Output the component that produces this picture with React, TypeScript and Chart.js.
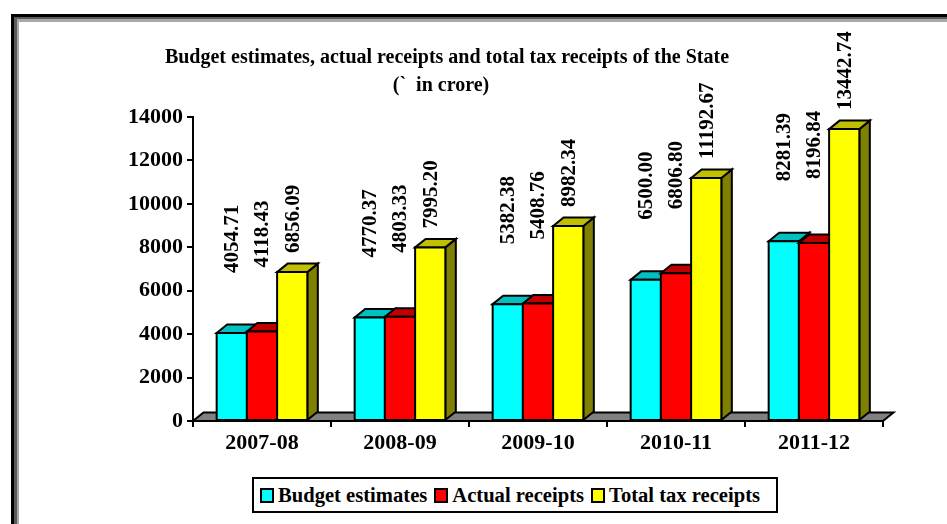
import React, { useEffect, useRef } from "react";
import { Chart, registerables } from "chart.js";

Chart.register(...registerables);

const categories = ["2007-08", "2008-09", "2009-10", "2010-11", "2011-12"];
const budgetEstimates = [4054.71, 4770.37, 5382.38, 6500.0, 8281.39];
const actualReceipts = [4118.43, 4803.33, 5408.76, 6806.8, 8196.84];
const totalTaxReceipts = [6856.09, 7995.2, 8982.34, 11192.67, 13442.74];
const seriesNames = ["Budget estimates", "Actual receipts", "Total tax receipts"];
const yMin = 0;
const yMax = 14000;
const yStep = 2000;

const FONT = '"Liberation Serif", "Times New Roman", serif';

const frontColors = ["#00FFFF", "#FF0000", "#FFFF00"];
const topColors = ["#00C0C0", "#C00000", "#C0C000"];
const sideColors = ["#008080", "#800000", "#808000"];
const labelOffsets = [60, 64, 19];

const bars3d = {
  id: "bars3d",
  beforeDatasetsDraw(chart: any) {
    const ctx = chart.ctx;
    const { left, right, bottom } = chart.chartArea;
    const dx = 10.5;
    const dy = 8.5;
    ctx.save();
    ctx.lineJoin = "miter";
    ctx.lineWidth = 2;
    ctx.strokeStyle = "#000";
    // floor
    ctx.beginPath();
    ctx.moveTo(left, bottom);
    ctx.lineTo(left + dx, bottom - dy);
    ctx.lineTo(right + dx, bottom - dy);
    ctx.lineTo(right, bottom);
    ctx.closePath();
    ctx.fillStyle = "#808080";
    ctx.fill();
    ctx.stroke();

    const n = chart.data.labels.length;
    const nd = chart.data.datasets.length;
    for (let i = 0; i < n; i++) {
      for (let d = 0; d < nd; d++) {
        const el: any = chart.getDatasetMeta(d).data[i];
        const x0 = el.x - el.width / 2;
        const x1 = el.x + el.width / 2;
        const yT = el.y;
        const yB = el.base;
        // side
        ctx.beginPath();
        ctx.moveTo(x1, yB);
        ctx.lineTo(x1 + dx, yB - dy);
        ctx.lineTo(x1 + dx, yT - dy);
        ctx.lineTo(x1, yT);
        ctx.closePath();
        ctx.fillStyle = sideColors[d];
        ctx.fill();
        ctx.stroke();
        // top
        ctx.beginPath();
        ctx.moveTo(x0, yT);
        ctx.lineTo(x0 + dx, yT - dy);
        ctx.lineTo(x1 + dx, yT - dy);
        ctx.lineTo(x1, yT);
        ctx.closePath();
        ctx.fillStyle = topColors[d];
        ctx.fill();
        ctx.stroke();
        // front
        ctx.beginPath();
        ctx.rect(x0, yT, x1 - x0, yB - yT);
        ctx.fillStyle = frontColors[d];
        ctx.fill();
        ctx.stroke();
      }
    }
    // data labels
    ctx.fillStyle = "#000";
    ctx.font = `bold 21px ${FONT}`;
    ctx.textAlign = "left";
    ctx.textBaseline = "middle";
    for (let d = 0; d < nd; d++) {
      const ds = chart.data.datasets[d];
      chart.getDatasetMeta(d).data.forEach((el: any, i: number) => {
        const v = ds.data[i] as number;
        ctx.save();
        ctx.translate(el.x + 1, el.y - labelOffsets[d]);
        ctx.rotate(-Math.PI / 2);
        ctx.fillText(v.toFixed(2), 0, 0);
        ctx.restore();
      });
    }
    ctx.restore();
    return false;
  },
};

export default function App() {
  const ref = useRef<HTMLCanvasElement>(null);
  useEffect(() => {
    if (!ref.current) return;
    const chart = new Chart(ref.current, {
      type: "bar",
      data: {
        labels: categories,
        datasets: [budgetEstimates, actualReceipts, totalTaxReceipts].map((data, d) => ({
          label: seriesNames[d],
          data,
          backgroundColor: frontColors[d],
          borderColor: "#000",
          borderWidth: 2,
          categoryPercentage: 0.657,
          barPercentage: 1,
        })),
      },
      options: {
        responsive: false,
        animation: false,
        layout: { padding: { left: 0, right: 64, top: 117, bottom: 0 } },
        plugins: {
          legend: { display: false },
          title: { display: false },
          tooltip: { enabled: false },
        },
        scales: {
          x: {
            afterFit: (s: any) => {
              s.height = 103;
            },
            grid: {
              display: true,
              drawOnChartArea: false,
              drawTicks: true,
              tickLength: 6,
              color: "#000",
              lineWidth: 2,
              offset: true,
            },
            border: { display: true, color: "#000", width: 2 },
            ticks: {
              color: "#000",
              font: { family: FONT, size: 22, weight: "bold" },
              padding: 3,
              maxRotation: 0,
            },
          },
          y: {
            min: yMin,
            max: yMax,
            afterFit: (s: any) => {
              s.width = 193;
            },
            grid: {
              display: true,
              drawOnChartArea: false,
              drawTicks: true,
              tickLength: 6,
              color: "#000",
              lineWidth: 2,
            },
            border: { display: true, color: "#000", width: 2 },
            ticks: {
              stepSize: yStep,
              color: "#000",
              font: { family: FONT, size: 22, weight: "bold" },
              padding: 4,
              callback: (v: any) => String(v),
            },
          },
        },
      },
      plugins: [bars3d],
    } as any);
    return () => chart.destroy();
  }, []);

  const swatch = (c: string) => (
    <span
      style={{
        display: "inline-block",
        width: 10,
        height: 11,
        border: "2px solid #000",
        background: c,
        marginRight: 4,
      }}
    />
  );

  return (
    <div
      style={{
        position: "fixed",
        left: 0,
        top: 0,
        width: 947,
        height: 524,
        overflow: "hidden",
        background: "#fff",
      }}
    >
      <div
        style={{
          position: "absolute",
          left: 11,
          top: 14,
          width: 1100,
          height: 700,
          borderTop: "3px solid #000",
          borderLeft: "3px solid #000",
        }}
      >
        <div
          style={{
            width: "100%",
            height: "100%",
            borderTop: "2px solid #5a5a5a",
            borderLeft: "3px solid #5a5a5a",
          }}
        >
          <div
            style={{
              width: "100%",
              height: "100%",
              borderTop: "3px solid #a8a8a8",
              borderLeft: "2px solid #a8a8a8",
            }}
          />
        </div>
      </div>
      <canvas
        ref={ref}
        width={947}
        height={524}
        style={{ position: "absolute", left: 0, top: 0, width: 947, height: 524 }}
      />
      <div
        style={{
          position: "absolute",
          left: 0,
          width: 894,
          top: 45,
          textAlign: "center",
          fontFamily: FONT,
          fontWeight: "bold",
          fontSize: 20,
          lineHeight: "22px",
          color: "#000",
          whiteSpace: "nowrap",
        }}
      >
        Budget estimates, actual receipts and total tax receipts of the State
      </div>
      <div
        style={{
          position: "absolute",
          left: 0,
          width: 882,
          top: 73,
          textAlign: "center",
          fontFamily: FONT,
          fontWeight: "bold",
          fontSize: 20,
          lineHeight: "22px",
          color: "#000",
          whiteSpace: "pre",
        }}
      >
        {"(`  in crore)"}
      </div>
      <div
        style={{
          position: "absolute",
          left: 252,
          top: 477,
          width: 516,
          height: 32,
          border: "2px solid #000",
          background: "#fff",
          display: "flex",
          alignItems: "center",
          paddingLeft: 6,
          boxSizing: "content-box",
          fontFamily: FONT,
          fontWeight: "bold",
          fontSize: 20.6,
          color: "#000",
          whiteSpace: "nowrap",
        }}
      >
        {seriesNames.map((name, d) => (
          <span key={name} style={{ display: "flex", alignItems: "center", marginRight: 7 }}>
            {swatch(frontColors[d])}
            {name}
          </span>
        ))}
      </div>
    </div>
  );
}
